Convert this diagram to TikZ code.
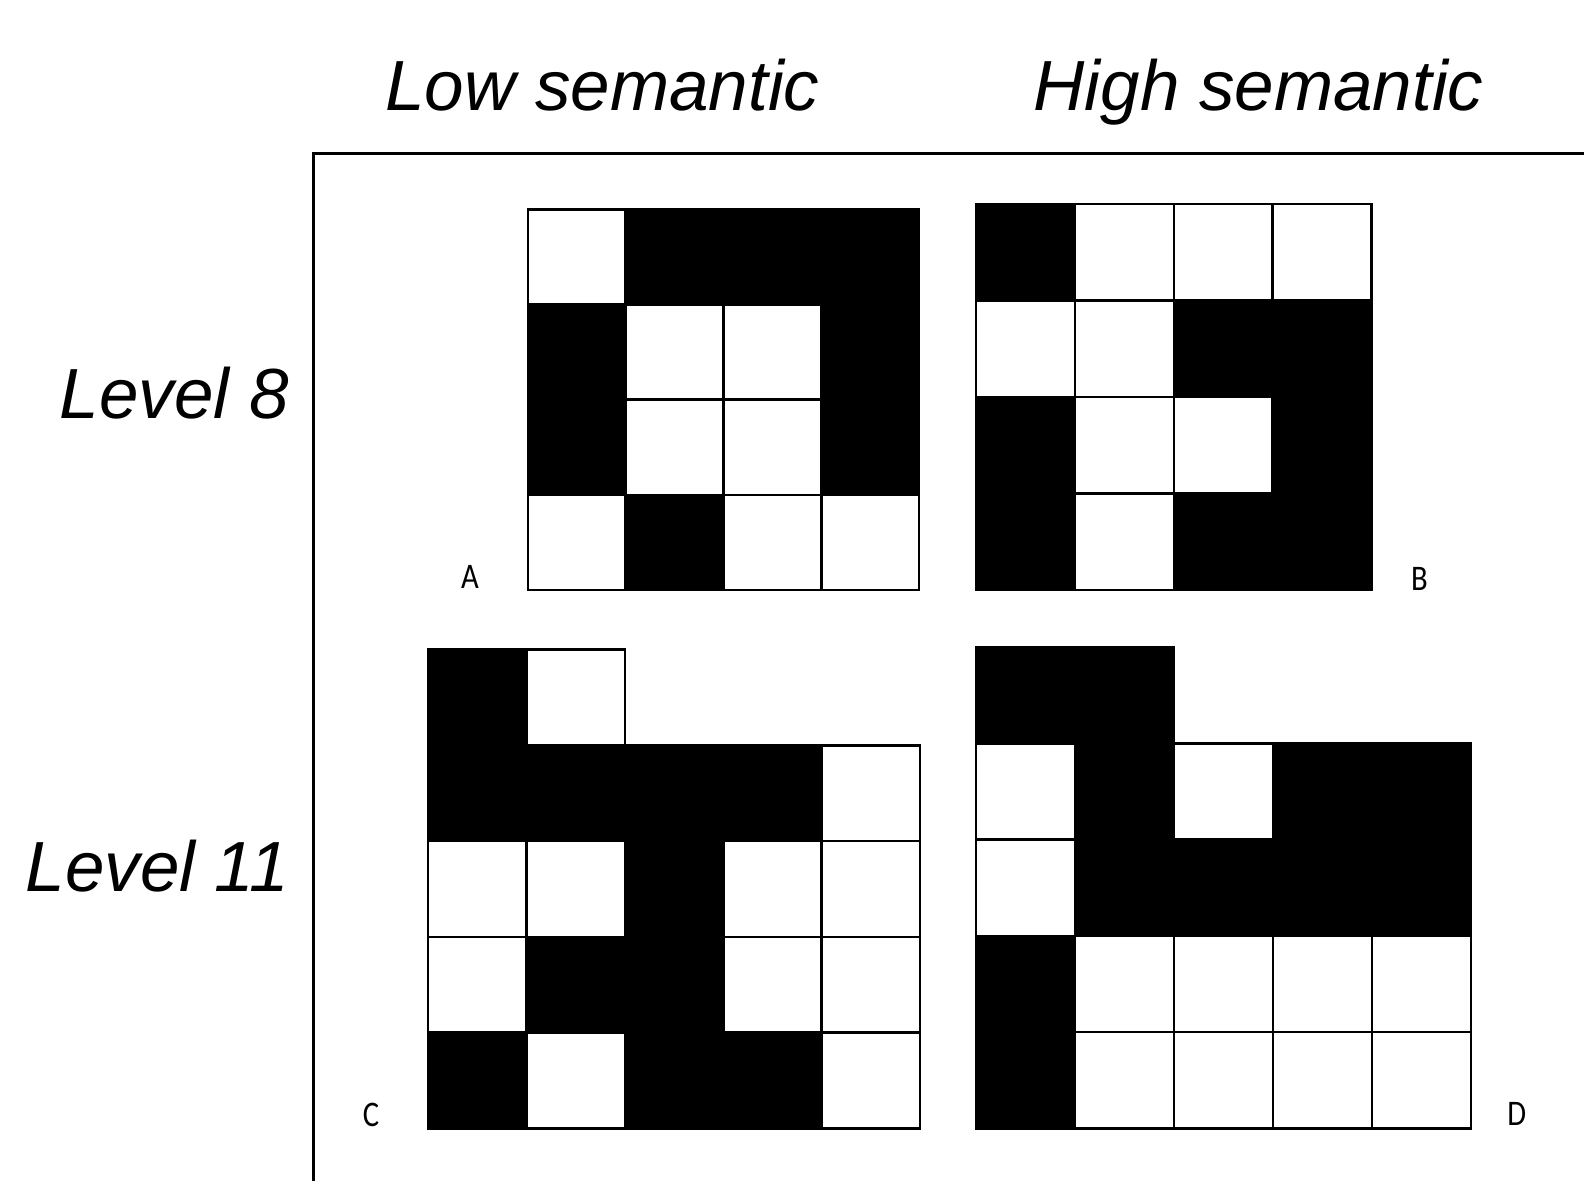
\documentclass[tikz,border=0pt]{standalone}
\usepackage{fontspec}
\setmainfont{Liberation Sans}
\newfontfamily\lblfont{Carlito}
\tikzset{
  cB/.style={fill=black,draw=black,line width=2.6pt},
  cW/.style={fill=white,draw=black,line width=2.6pt},
  frameline/.style={draw=black,line width=3pt},
  title/.style={font=\itshape\fontsize{71}{80}\selectfont,anchor=base,inner sep=0pt},
  lbl/.style={font=\lblfont\fontsize{36}{42}\selectfont,anchor=base,inner sep=0pt,xscale=0.85}
}
\newcommand\drawgrid[5]{%
  \begin{scope}[shift={(#1,#2)},x=#3pt,y=-#4pt]
    \foreach \row [count=\r from 0] in {#5} {
      \foreach \k [count=\c from 0] in \row {
        \path[c\k] (\c,\r) rectangle ++(1,1);
      }
    }
  \end{scope}}
\begin{document}
\begin{tikzpicture}[x=1pt,y=-1pt]
\useasboundingbox (0,0) rectangle (1584,1180);
% frame
\coordinate (fr1) at (1590,153);
\coordinate (fr2) at (313.5,153);
\coordinate (fr3) at (313.5,1190);
\draw[frameline] (fr1) -- (fr2) -- (fr3);
% grids
\drawgrid{528}{209.5}{97.75}{95.1}{{W,B,B,B},{B,W,W,B},{B,W,W,B},{W,B,W,W}}
\drawgrid{976}{204}{98.9}{96.5}{{B,W,W,W},{W,W,B,B},{B,W,W,B},{B,W,B,B}}
\drawgrid{428}{649.5}{98.4}{95.8}{{B,W},{B,B,B,B,W},{W,W,B,W,W},{W,B,B,W,W},{B,W,B,B,W}}
\drawgrid{975.8}{647.3}{99}{96.2}{{B,B},{W,B,W,B,B},{W,B,B,B,B},{B,W,W,W,W},{B,W,W,W,W}}
% titles
\node[title] (low) at (602.5,110.7) {Low semantic};
\node[title] (high) at (1258.5,110.7) {High semantic};
\node[title,anchor=base east] (l8) at (289,418.3) {Level 8};
\node[title,anchor=base east] (l11) at (289,891) {Level 11};
% letters
\node[lbl] (la) at (470,588.3) {A};
\node[lbl] (lb) at (1419.5,590.7) {B};
\node[lbl] (lc) at (371,1126.7) {C};
\node[lbl] (ld) at (1516.7,1125) {D};
\end{tikzpicture}
\end{document}
